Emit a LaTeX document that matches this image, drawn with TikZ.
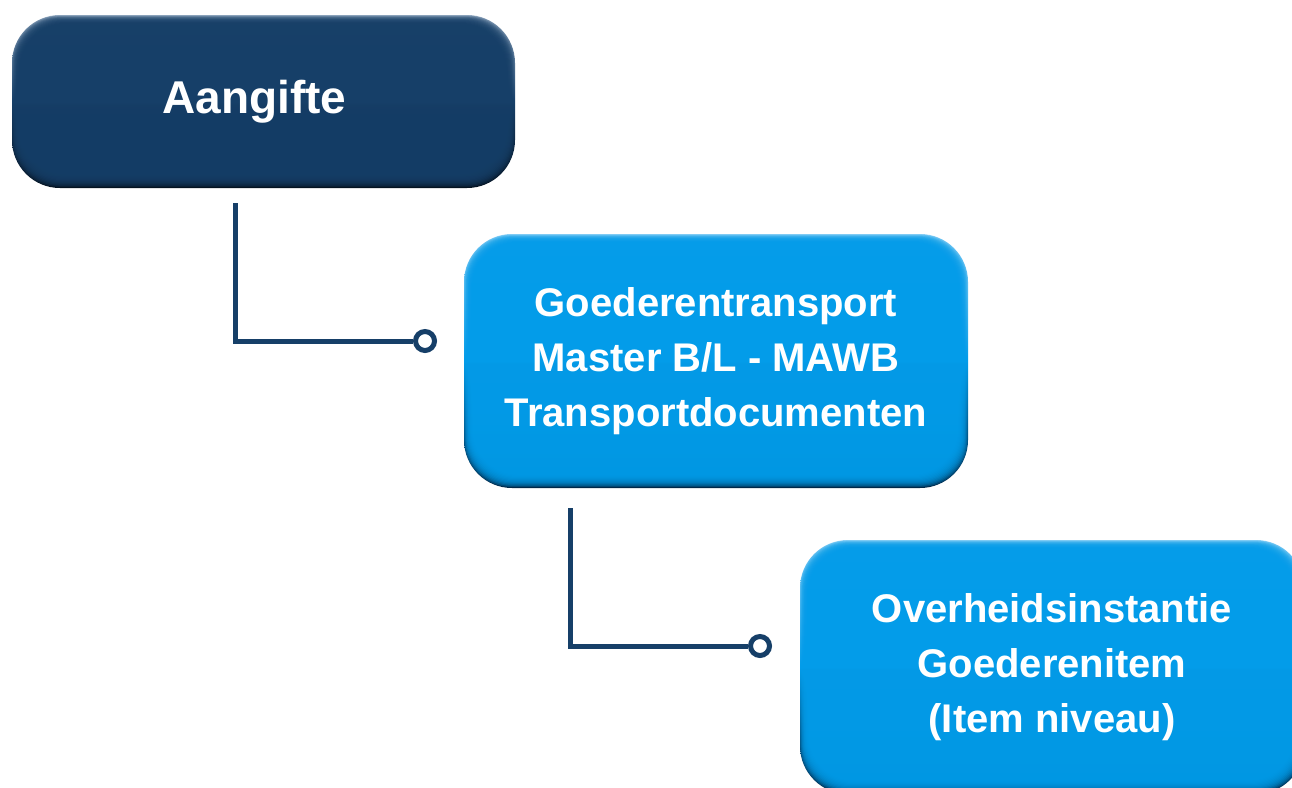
\documentclass[tikz,border=0pt]{standalone}
\usepackage{fontspec}
\setmainfont{Liberation Sans}
\usetikzlibrary{positioning}

\definecolor{navy}{RGB}{22,63,104}
\definecolor{navytop}{RGB}{150,172,195}
\definecolor{navybot}{RGB}{4,18,32}
\definecolor{sky}{RGB}{3,156,233}
\definecolor{skytop}{RGB}{140,208,246}
\definecolor{skybot}{RGB}{0,40,72}

\tikzset{
    bevelbox/.style={rounded corners=48pt, text=white, align=center,
        font=\bfseries\fontsize{40}{55}\selectfont,
        top color=#1top, bottom color=#1bot, middle color=#1,
        path picture={
            \foreach \i in {1,...,12}
                \fill[#1, fill opacity=0.25, rounded corners=46pt]
                    ([shift={(0.7*\i pt,-0.7*\i pt)}]path picture bounding box.north west)
                    rectangle ([shift={(-0.8*\i pt,1.1*\i pt)}]path picture bounding box.south east);
        }},
    link/.style={navy, line width=5pt},
    endpoint/.style={circle, draw=navy, line width=5pt, fill=white, minimum size=19pt, inner sep=0pt}
}

\begin{document}
\begin{tikzpicture}[x=1pt, y=-1pt]
    \useasboundingbox (0,0) rectangle (1292,787);

    \node[bevelbox=navy, minimum width=503pt, minimum height=173pt, font=\bfseries\fontsize{46}{55}\selectfont] (aangifte) at (263.5,101.5) {Aangifte\hspace*{18pt}};
    \node[bevelbox=sky, minimum width=504pt, minimum height=254pt] (transport) at (716,361) {Goederentransport\\Master B/L - MAWB\\Transportdocumenten};
    \node[bevelbox=sky, minimum width=504pt, minimum height=254pt] (item) at (1052,667) {Overheidsinstantie\\Goederenitem\\(Item niveau)};

    \coordinate (down1) at (235,203);
    \coordinate (down2) at (570,508);
    \node[endpoint] (end1) at (425,341) {};
    \node[endpoint] (end2) at (760,646) {};

    \draw[link] (down1) |- (end1.west);
    \draw[link] (down2) |- (end2.west);
\end{tikzpicture}
\end{document}
